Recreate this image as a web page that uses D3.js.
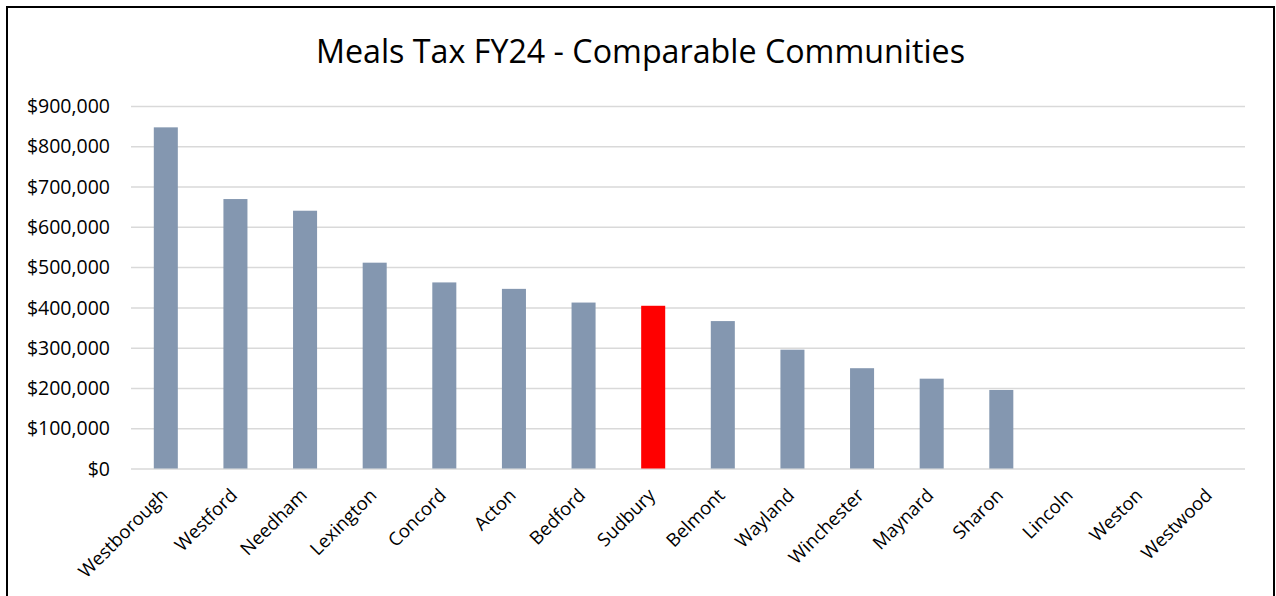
<!DOCTYPE html>
<html>
<head>
<meta charset="utf-8">
<script src="https://cdn.jsdelivr.net/npm/d3@7"></script>
<style>
  html, body { margin: 0; padding: 0; background: #fff; }
  svg { display: block; }
  text { font-family: "Open Sans", "Noto Sans", sans-serif; fill: #000; }
</style>
</head>
<body>
<svg id="chart" width="1276" height="596"></svg>
<script>
// Meals tax receipts, FY24, by community
const towns = ["Westborough", "Westford", "Needham", "Lexington", "Concord", "Acton",
  "Bedford", "Sudbury", "Belmont", "Wayland", "Winchester", "Maynard", "Sharon",
  "Lincoln", "Weston", "Westwood"];
const mealsTax = [847000, 669000, 640000, 511000, 462000, 446000,
  412000, 404000, 366000, 295000, 249000, 223000, 195000,
  0, 0, 0];
const highlightTown = "Sudbury";
const yTicks = [0, 100000, 200000, 300000, 400000, 500000, 600000, 700000, 800000, 900000];
const titleText = "Meals Tax FY24 - Comparable Communities";

const svg = d3.select("#chart");
const plot = { left: 131, right: 1245, top: 106, bottom: 468.5 };

// outer chart border
svg.append("rect")
  .attr("x", 7).attr("y", 7)
  .attr("width", 1267).attr("height", 620)
  .attr("fill", "none").attr("stroke", "#000").attr("stroke-width", 2);

const x = d3.scaleBand()
  .domain(towns)
  .range([plot.left, plot.right])
  .paddingInner(0.655)
  .paddingOuter(0.3275);

const y = d3.scaleLinear()
  .domain([0, 900000])
  .range([plot.bottom, plot.top]);

// horizontal gridlines and value labels
const yAxis = d3.axisLeft(y)
  .tickValues(yTicks)
  .tickSize(-(plot.right - plot.left))
  .tickPadding(21)
  .tickFormat(d => "$" + d3.format(",")(d));

const gy = svg.append("g")
  .attr("transform", `translate(${plot.left},0)`)
  .call(yAxis);
gy.select(".domain").remove();
gy.selectAll(".tick line").attr("stroke", "#d9d9d9").attr("stroke-width", 1.5);
gy.selectAll(".tick text")
  .attr("font-size", 19.5)
  .attr("dy", "0.34em")
  .attr("fill", "#000");

// bars
svg.append("g").selectAll("rect")
  .data(towns.map((t, i) => ({ town: t, value: mealsTax[i] })))
  .join("rect")
  .attr("x", d => x(d.town))
  .attr("y", d => y(d.value))
  .attr("width", x.bandwidth())
  .attr("height", d => y(0) - y(d.value))
  .attr("fill", d => d.town === highlightTown ? "#ff0000" : "#8497b0");

// category axis with rotated labels
const xAxis = d3.axisBottom(x).tickSize(0).tickPadding(0);
const gx = svg.append("g")
  .attr("transform", `translate(0,${plot.bottom})`)
  .call(xAxis);
gx.select(".domain").remove();
gx.selectAll(".tick text")
  .attr("font-size", 18.5)
  .attr("text-anchor", "end")
  .attr("dy", null)
  .attr("y", 0)
  .attr("transform", "translate(3,28) rotate(-45)")
  .attr("fill", "#000");

// title
const title = svg.append("text")
  .attr("x", 640.5)
  .attr("y", 63.3)
  .attr("text-anchor", "middle")
  .attr("font-size", 32)
  .text(titleText);
const tw = title.node().getComputedTextLength();
if (Math.abs(tw - 649) > 4) {
  title.attr("textLength", 649).attr("lengthAdjust", "spacingAndGlyphs");
}
</script>
</body>
</html>
